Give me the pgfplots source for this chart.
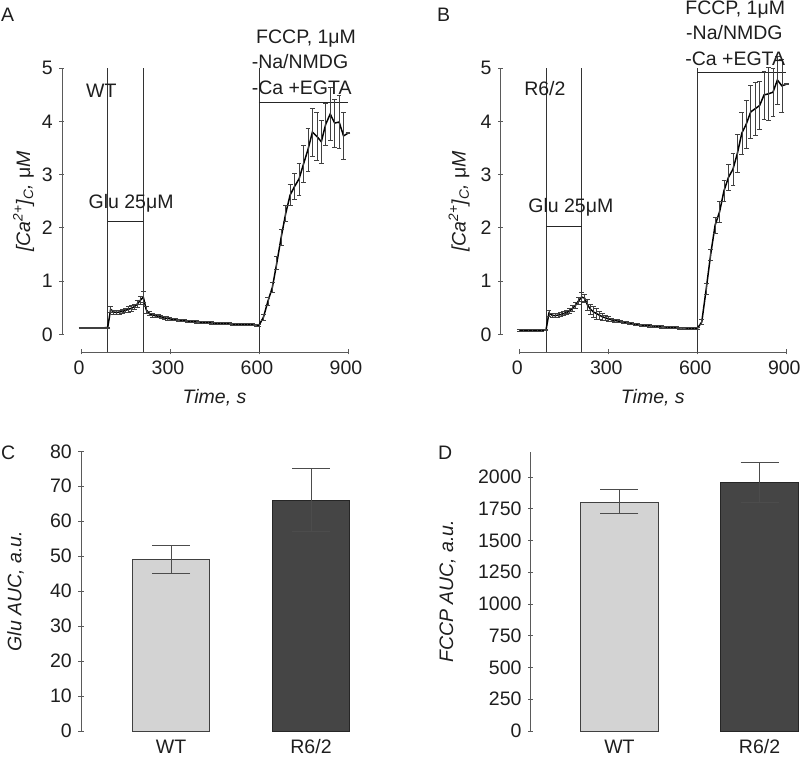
\documentclass[border=0pt]{standalone}
\usepackage{fontspec}
\setmainfont{Liberation Sans}
\usepackage{pgfplots}
\usepackage{pgfplotstable}
\pgfplotsset{compat=1.18}
\definecolor{txt}{HTML}{1E1E1E}
\definecolor{axc}{HTML}{5A5A5A}
\definecolor{wtfill}{HTML}{D3D3D3}
\definecolor{rfill}{HTML}{454545}
\newcommand{\fs}{\fontsize{19.5}{23}\selectfont}

\pgfplotstableread{
t v e
0 0.12 0.01
15 0.12 0.01
30 0.12 0.01
45 0.12 0.01
60 0.12 0.01
75 0.12 0.01
90 0.13 0.01
100 0.47 0.06
110 0.42 0.04
120 0.41 0.04
130 0.42 0.04
140 0.43 0.04
150 0.45 0.04
160 0.47 0.05
170 0.49 0.05
180 0.52 0.05
190 0.57 0.06
200 0.64 0.08
210 0.70 0.10
220 0.46 0.06
230 0.39 0.04
240 0.36 0.04
250 0.35 0.03
260 0.34 0.03
270 0.33 0.03
280 0.31 0.03
290 0.30 0.03
300 0.29 0.03
310 0.28 0.02
320 0.275 0.02
330 0.27 0.02
340 0.26 0.02
350 0.255 0.02
360 0.25 0.02
370 0.245 0.02
380 0.24 0.02
390 0.235 0.02
400 0.23 0.02
410 0.225 0.02
420 0.22 0.02
430 0.22 0.02
440 0.215 0.02
450 0.21 0.02
460 0.21 0.02
470 0.205 0.02
480 0.20 0.02
490 0.20 0.02
500 0.20 0.02
510 0.195 0.02
520 0.19 0.02
530 0.19 0.02
540 0.19 0.02
550 0.185 0.02
560 0.185 0.02
570 0.18 0.02
580 0.18 0.02
590 0.175 0.02
600 0.17 0.02
615 0.32 0.05
630 0.62 0.08
645 0.88 0.10
660 1.34 0.12
675 1.83 0.15
690 2.27 0.15
705 2.62 0.20
720 2.78 0.25
735 2.92 0.30
750 3.20 0.35
765 3.47 0.40
780 3.80 0.45
795 3.72 0.45
810 3.62 0.40
825 3.95 0.40
840 4.14 0.50
855 3.97 0.45
870 3.99 0.50
885 3.73 0.45
900 3.78 0.01
}\tabA

\pgfplotstableread{
t v e
0 0.075 0.01
15 0.075 0.01
30 0.075 0.01
45 0.075 0.01
60 0.075 0.01
75 0.075 0.01
90 0.08 0.01
100 0.40 0.06
110 0.36 0.04
120 0.35 0.04
130 0.36 0.04
140 0.37 0.04
150 0.39 0.04
160 0.41 0.04
170 0.44 0.05
180 0.49 0.05
190 0.55 0.06
200 0.63 0.07
210 0.70 0.08
220 0.68 0.08
230 0.55 0.10
240 0.47 0.10
250 0.42 0.10
260 0.39 0.10
270 0.36 0.08
280 0.33 0.06
290 0.31 0.05
300 0.29 0.04
310 0.275 0.03
320 0.26 0.03
330 0.25 0.03
340 0.24 0.02
350 0.23 0.02
360 0.22 0.02
370 0.21 0.02
380 0.20 0.02
390 0.19 0.02
400 0.18 0.02
410 0.175 0.02
420 0.17 0.02
430 0.165 0.02
440 0.16 0.02
450 0.155 0.02
460 0.15 0.02
470 0.145 0.02
480 0.14 0.02
490 0.138 0.02
500 0.135 0.02
510 0.13 0.02
520 0.13 0.02
530 0.125 0.02
540 0.12 0.02
550 0.12 0.02
560 0.12 0.02
570 0.115 0.02
580 0.11 0.02
590 0.11 0.02
600 0.11 0.02
615 0.23 0.05
630 0.85 0.10
645 1.50 0.10
660 2.05 0.15
675 2.30 0.20
690 2.70 0.20
705 2.95 0.25
720 3.10 0.30
735 3.40 0.35
750 3.78 0.40
765 3.95 0.45
780 4.18 0.50
795 4.24 0.50
810 4.30 0.45
825 4.50 0.45
840 4.52 0.50
855 4.55 0.45
870 4.78 0.45
885 4.67 0.50
900 4.70 0.01
}\tabB

\pgfplotsset{
  common/.style={
    scale only axis,
    clip=false,
    enlargelimits=false,
    tick align=outside,
    major tick length=5pt,
    tick style={axc, line width=0.8pt},
    tick label style={font=\fs, text=txt},
    /pgf/number format/assume math mode=true,
    /pgf/number format/1000 sep={},
    label style={font=\fs\itshape, text=txt},
  },
  noarrow/.style={
    axis line style={axc, line width=0.9pt, -},
    every outer x axis line/.append style={-},
    every outer y axis line/.append style={-},
    every inner x axis line/.append style={-},
    every inner y axis line/.append style={-},
  },
  trace/.style={
    common,
    axis lines=left,
    noarrow,
    axis x line shift=17.7pt,
    axis y line shift=19pt,
    xmin=0, xmax=900, ymin=0, ymax=5,
    xtick={0,300,600,900}, ytick={0,1,2,3,4,5},
    xticklabel style={xshift=-2pt},
    width=267pt, height=266pt,
    xlabel={Time, s},
    xlabel style={at={(axis description cs:0.5,-0.239)}, anchor=center},
    ylabel={[Ca\textsuperscript{2+}]\textsubscript{C}, \textup{μ}M},
  },
  tr/.style={black, line width=1.5pt, no markers,
    error bars/.cd, y dir=both, y explicit,
    error bar style={black!75, line width=0.6pt},
    error mark options={rotate=90, mark size=2.4pt, black!75, line width=0.6pt},
    /pgfplots/.cd},
  bars/.style={
    common,
    axis lines=left,
    noarrow,
    x axis line style={draw=none},
    xtick style={draw=none},
    xtick={1,2}, xticklabels={WT,R6/2},
    xticklabel style={yshift=3pt},
    ybar, bar width=77.5pt, bar shift=0pt,
  },
  br/.style={line width=0.8pt,
    error bars/.cd, y dir=both, y explicit,
    error bar style={black!70, line width=1pt},
    error mark options={rotate=90, mark size=19pt, black!70, line width=1pt},
    /pgfplots/.cd},
}

\begin{document}
\begin{tikzpicture}
\useasboundingbox (0,0) rectangle (800pt,759pt);
\fs
% panel letters
\node[anchor=base west, inner sep=0, text=txt, font=\fs] at (1pt,737pt) {A};
\node[anchor=base west, inner sep=0, text=txt, font=\fs] at (437pt,737pt) {B};
\node[anchor=base west, inner sep=0, text=txt, font=\fs] at (1pt,299pt) {C};
\node[anchor=base west, inner sep=0, text=txt, font=\fs] at (438pt,299pt) {D};

% ---------- A ----------
\begin{axis}[trace, at={(81pt,424.7pt)}, anchor=south west,
  ylabel style={at={(axis description cs:-0.215,0.5)}, anchor=center}]
\draw[black!80, line width=0.5pt] (axis cs:90,-0.34) -- (axis cs:90,5);
\draw[black!80, line width=0.5pt] (axis cs:210,-0.34) -- (axis cs:210,5);
\draw[black!80, line width=0.5pt] (axis cs:600,-0.34) -- (axis cs:600,5);
\draw[black!85, line width=1.1pt] (axis cs:90,2.12) -- (axis cs:210,2.12);
\draw[black!85, line width=1.1pt] (axis cs:600,4.36) -- (axis cs:900,4.36);
\addplot[tr] table[x=t, y=v, y error=e] {\tabA};
\node[anchor=base west, inner sep=0, text=txt, font=\fs] at (axis cs:17,4.46) {WT};
\node[anchor=base west, inner sep=0, text=txt, font=\fs] at (axis cs:25,2.37) {Glu 25μM};
\node[anchor=base west, inner sep=0, text=txt, font=\fs] at (axis cs:590,5.46) {FCCP, 1μM};
\node[anchor=base west, inner sep=0, text=txt, font=\fs] at (axis cs:575,4.99) {-Na/NMDG};
\node[anchor=base west, inner sep=0, text=txt, font=\fs] at (axis cs:575,4.51) {-Ca +EGTA};
\end{axis}

% ---------- B ----------
\begin{axis}[trace, at={(519.3pt,424.7pt)}, anchor=south west,
  axis y line shift=18.6pt,
  ylabel style={at={(axis description cs:-0.225,0.5)}, anchor=center}]
\draw[black!80, line width=0.5pt] (axis cs:90,-0.34) -- (axis cs:90,5);
\draw[black!80, line width=0.5pt] (axis cs:210,-0.34) -- (axis cs:210,5);
\draw[black!80, line width=0.5pt] (axis cs:600,-0.34) -- (axis cs:600,5);
\draw[black!85, line width=1.1pt] (axis cs:90,2.03) -- (axis cs:210,2.03);
\draw[black!85, line width=1.1pt] (axis cs:600,4.92) -- (axis cs:900,4.92);
\addplot[tr] table[x=t, y=v, y error=e] {\tabB};
\node[anchor=base west, inner sep=0, text=txt, font=\fs] at (axis cs:16,4.48) {R6/2};
\node[anchor=base west, inner sep=0, text=txt, font=\fs] at (axis cs:30,2.29) {Glu 25μM};
\node[anchor=base west, inner sep=0, text=txt, font=\fs] at (axis cs:559,6.02) {FCCP, 1μM};
\node[anchor=base west, inner sep=0, text=txt, font=\fs] at (axis cs:562,5.55) {-Na/NMDG};
\node[anchor=base west, inner sep=0, text=txt, font=\fs] at (axis cs:559,5.06) {-Ca +EGTA};
\end{axis}

% ---------- C ----------
\begin{axis}[bars, at={(81pt,28pt)}, anchor=south west,
  width=300pt, height=279.7pt,
  xmin=0.357, xmax=2.5, ymin=0, ymax=80, ytick={0,10,...,80},
  ylabel={Glu AUC, a.u.},
  ylabel style={at={(axis description cs:-0.218,0.5)}, anchor=center}]
\addplot[fill=wtfill, draw=black!75, br] coordinates {(1,49) +- (0,4)};
\addplot[fill=rfill, draw=black!85, br] coordinates {(2,66) +- (0,9)};
\end{axis}

% ---------- D ----------
\begin{axis}[bars, at={(530.7pt,28pt)}, anchor=south west,
  width=269.3pt, height=279.4pt,
  xmin=0.366, xmax=2.289, ymin=0, ymax=2200, ytick={0,250,...,2000},
  ylabel={FCCP AUC, a.u.},
  ylabel style={at={(axis description cs:-0.309,0.5)}, anchor=center}]
\addplot[fill=wtfill, draw=black!75, br] coordinates {(1,1803) += (0,97) -= (0,94)};
\addplot[fill=rfill, draw=black!85, br] coordinates {(2,1955) += (0,163) -= (0,157)};
\end{axis}
\end{tikzpicture}
\end{document}
